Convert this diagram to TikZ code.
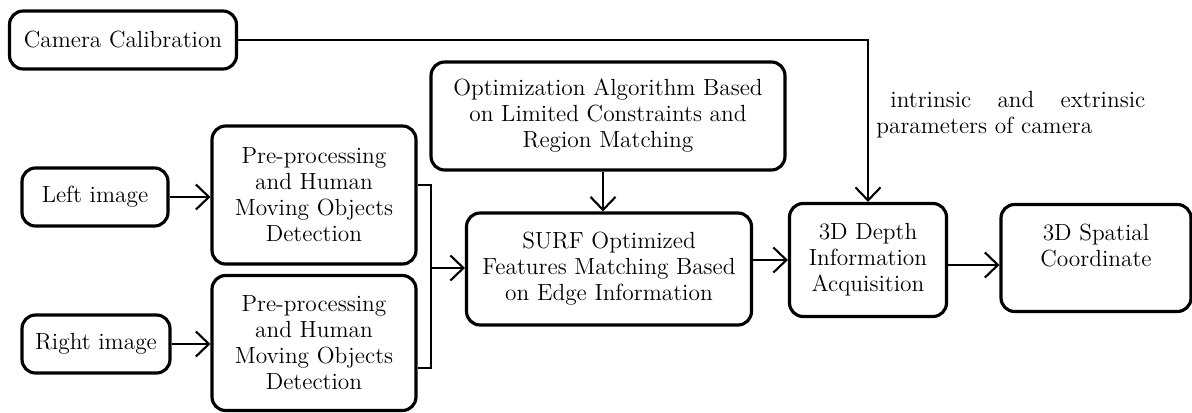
\documentclass[tikz,border=0pt]{standalone}
\usetikzlibrary{arrows.meta}

\begin{document}
\begin{tikzpicture}[x=0.02cm, y=-0.02cm,
        block/.style={rectangle, rounded corners=0.27cm, draw=black, line width=1.8pt, fill=white, align=center, inner sep=2pt, font=\fontsize{13.3}{14.8}\selectfont},
        flow/.style={line width=1.2pt, -{Straight Barb[length=2.6mm, width=5mm, line width=1.2pt]}}]
        \useasboundingbox (0, 0) rectangle (1192, 412);

        \node[block, minimum width=4.54cm, minimum height=1.16cm] (calib) at (123, 40) {Camera Calibration};
        \node[block, minimum width=2.92cm, minimum height=1.16cm] (left) at (95, 197) {Left image};
        \node[block, minimum width=2.96cm, minimum height=1.16cm] (right) at (96, 344) {Right image};
        \node[block, minimum width=4.08cm, minimum height=2.76cm] (pre1) at (314, 195) {Pre-processing\\and Human\\Moving Objects\\Detection};
        \node[block, minimum width=4.08cm, minimum height=2.7cm] (pre2) at (314, 343) {Pre-processing\\and Human\\Moving Objects\\Detection};
        \node[block, minimum width=7.08cm, minimum height=2.16cm] (optim) at (608, 116) {Optimization Algorithm Based\\on Limited Constraints and\\Region Matching};
        \node[block, minimum width=5.7cm, minimum height=2.24cm] (surf) at (609, 269) {SURF Optimized\\Features Matching Based\\on Edge Information};
        \node[block, minimum width=3.14cm, minimum height=2.26cm] (depth) at (868, 260) {3D Depth\\Information\\Acquisition};
        \node[block, minimum width=3.8cm, minimum height=2.14cm] (spatial) at (1096, 258) {3D Spatial\\Coordinate\\~};

        \coordinate (join) at (431, 268);

        % inputs
        \draw[flow] (left) -- (pre1.west |- left);
        \draw[flow] (right) -- (pre2.west |- right);

        % both detections merge into matching
        \draw[line width=0.8pt] (pre1.east |- 0, 185) -| (join) |- (pre2.east |- 0, 368);
        \draw[flow] (join) -- (surf.west |- join);

        \draw[flow] (optim.south -| 603, 0) -- (surf.north -| 603, 0);
        \draw[flow] (surf.east |- 0, 260) -- (depth.west |- 0, 260);
        \draw[flow] (depth.east |- 0, 265) -- (spatial.west |- 0, 265);

        % calibration parameters
        \draw[flow] (calib) -| (depth.north);
        \node[anchor=north west, inner sep=0pt, text width=5.38cm, align=left, font=\fontsize{13.3}{14.8}\selectfont] (params) at (876, 91) {\hspace*{8pt}intrinsic\hfill and\hfill extrinsic\\parameters of camera};
    \end{tikzpicture}
\end{document}
